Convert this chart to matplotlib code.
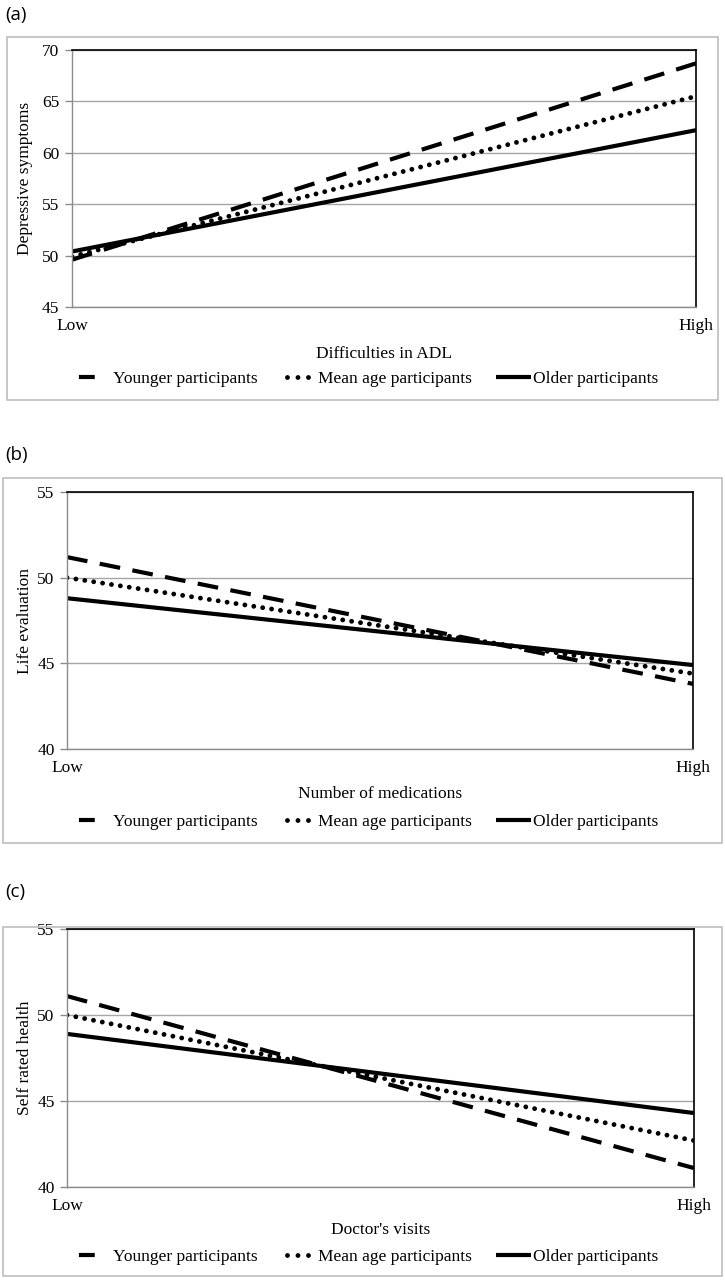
import matplotlib
matplotlib.use("Agg")
import matplotlib.pyplot as plt
from matplotlib.patches import Rectangle
from matplotlib.lines import Line2D

# ---- data ----
levels = ["Low", "High"]
series_names = ["Younger participants", "Mean age participants", "Older participants"]

adl_young = [49.6, 68.7]
adl_mean = [49.9, 65.5]
adl_old = [50.4, 62.2]

med_young = [51.2, 43.8]
med_mean = [50.0, 44.4]
med_old = [48.8, 44.9]

doc_young = [51.1, 41.1]
doc_mean = [50.0, 42.7]
doc_old = [48.9, 44.3]

panel_letters = ["(a)", "(b)", "(c)"]
x_titles = ["Difficulties in ADL", "Number of medications", "Doctor's visits"]
y_titles = ["Depressive symptoms", "Life evaluation", "Self rated health"]
y_ranges = [(45, 70), (40, 55), (40, 55)]

panels = [
    (adl_young, adl_mean, adl_old),
    (med_young, med_mean, med_old),
    (doc_young, doc_mean, doc_old),
]

plt.rcParams['font.family'] = ['Liberation Serif', 'DejaVu Serif']
plt.rcParams['font.size'] = 12.5

W, H = 725, 1280
fig = plt.figure(figsize=(W / 100, H / 100), dpi=100)

# layout in pixels
axes_px = [(72, 50, 696, 307), (67, 492, 693, 749), (67, 929, 694, 1187)]
box_px = [(7, 37, 718, 400), (3, 478, 722, 843), (3, 927, 722, 1276)]
letter_y = [15, 455, 892]
xlabel_y = [354, 794, 1230]
legend_y = [379, 822, 1257]
legend_cx = 367

line_styles = [
    dict(linewidth=3, linestyle=(0, (5, 3.0)), dash_capstyle='butt'),
    dict(linewidth=3.5, linestyle=(0, (0.001, 1.85)), dash_capstyle='round'),
    dict(linewidth=3, linestyle='-', solid_capstyle='butt'),
]

# legend keys: one short dash, three dots, a solid bar
key_styles = [
    dict(linewidth=3, linestyle=(0, (0.001, 0.7, 3.8, 30)), dash_capstyle='butt'),
    dict(linewidth=3.5, linestyle=(33.3, (0.001, 2.16, 0.001, 2.16, 0.001, 30)),
         dash_capstyle='round'),
    dict(linewidth=3, linestyle='-', solid_capstyle='butt'),
]

x = [0, 1]

for i, (data, (l, t, r, b)) in enumerate(zip(panels, axes_px)):
    # outer grey frame
    bx0, by0, bx1, by1 = box_px[i]
    fig.patches.append(Rectangle((bx0 / W, 1 - by1 / H), (bx1 - bx0) / W, (by1 - by0) / H,
                                 transform=fig.transFigure, fill=False,
                                 edgecolor='#bdbdbd', linewidth=1.2, zorder=0))
    fig.text(5 / W, 1 - letter_y[i] / H, panel_letters[i], family=['Open Sans', 'DejaVu Sans'],
             fontsize=13.5, va='center', ha='left')

    ax = fig.add_axes([l / W, 1 - b / H, (r - l) / W, (b - t) / H])
    for vals, name, st in zip(data, series_names, line_styles):
        ax.plot(x, vals, color='black', label=name, **st)

    lo, hi = y_ranges[i]
    ax.set_ylim(lo, hi)
    ax.set_xlim(0, 1)
    ax.set_yticks(range(lo, hi + 1, 5))
    ax.set_xticks(x)
    ax.set_xticklabels(levels)
    ax.tick_params(axis='x', length=0, pad=8)
    ax.tick_params(axis='y', length=5, color='#8c8c8c', width=1, pad=4)
    ax.grid(axis='y', color='#a6a6a6', linewidth=1)
    ax.set_axisbelow(True)
    for side in ['top', 'right']:
        ax.spines[side].set_color('black')
        ax.spines[side].set_linewidth(1.2)
    for side in ['left', 'bottom']:
        ax.spines[side].set_color('#8c8c8c')
        ax.spines[side].set_linewidth(1)

    h_px = b - t
    w_px = r - l
    ax.set_xlabel(x_titles[i])
    ax.xaxis.set_label_coords(0.5, (b - xlabel_y[i]) / h_px)
    ax.xaxis.label.set_va('center')
    ax.set_ylabel(y_titles[i])
    ax.yaxis.set_label_coords((25 - l) / w_px, 0.5)
    ax.yaxis.label.set_va('center')

    keys = [Line2D([], [], color='black', **st) for st in key_styles]
    ax.legend(keys, series_names, loc='center',
              bbox_to_anchor=((legend_cx - l) / w_px, (b - legend_y[i]) / h_px), ncol=3,
              frameon=False, handlelength=2.0, handletextpad=0.1, columnspacing=1.4,
              borderaxespad=0, borderpad=0)

fig.savefig('out.png', dpi=100)
